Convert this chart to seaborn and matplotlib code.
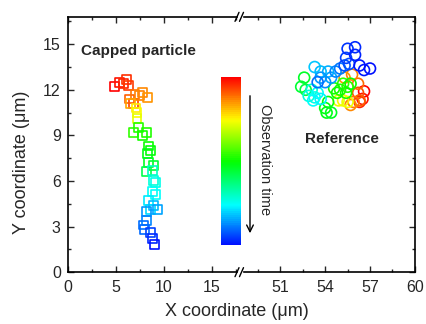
import numpy as np
import matplotlib
matplotlib.use("Agg")
import matplotlib.pyplot as plt
import matplotlib.patches as mpatches
import seaborn as sns
import pandas as pd
from matplotlib.colors import LinearSegmentedColormap, Normalize
from matplotlib.cm import ScalarMappable
from matplotlib.ticker import MultipleLocator

# ── data (x, y in um; t = relative observation time) ──
cap_x = [4.9, 5.4, 5.8, 6.1, 6.3,
         6.8, 6.4, 7.0, 7.5, 7.8, 8.3, 6.5,
         7.1, 7.2, 7.2,
         6.8, 7.4, 8.2, 7.8, 8.4, 8.6, 8.3, 8.4, 8.9, 8.2,
         8.8, 8.9, 9.1, 8.8, 9.1, 8.4, 8.6,
         8.9, 9.3, 8.2, 8.2, 7.9, 8.0,
         8.6, 8.8, 9.0]
cap_y = [12.2, 12.5, 12.4, 12.7, 12.3,
         11.1, 11.4, 11.7, 11.6, 11.8, 11.5, 11.1,
         10.8, 10.5, 10.1,
         9.2, 9.5, 9.2, 9.0, 8.3, 8.0, 7.8, 7.2, 7.0, 6.6,
         6.7, 6.05, 5.9, 5.3, 5.1, 4.7, 4.1,
         4.4, 4.1, 4.0, 3.4, 3.1, 2.8,
         2.6, 2.2, 1.8]
cap_t = [0.00, 0.02, 0.04, 0.05, 0.06,
         0.07, 0.10, 0.12, 0.13, 0.14, 0.15, 0.17,
         0.24, 0.26, 0.28,
         0.46, 0.47, 0.48, 0.49, 0.50, 0.51, 0.52, 0.54, 0.56, 0.58,
         0.70, 0.72, 0.74, 0.75, 0.76, 0.78, 0.80,
         0.83, 0.85, 0.86, 0.88, 0.90, 0.91,
         0.95, 0.97, 1.00]

ref_x = [56.6, 56.5, 56.3,
         56.2, 56.3, 55.9, 55.7, 56.2, 55.8, 55.3,
         55.2, 55.5, 54.9,
         55.2, 55.5, 55.0, 55.4, 54.8, 55.7, 54.2, 54.0, 54.1, 54.4, 52.6, 52.4, 52.7, 54.6,
         53.1, 52.9, 53.3, 53.5, 53.2, 53.7,
         53.3, 53.7, 54.2, 54.4, 53.7, 54.0, 54.7, 55.0, 53.5,
         55.3, 55.6, 55.4, 55.5, 56.0, 56.0, 56.3, 56.6, 57.0]
ref_y = [11.9, 11.4, 11.2,
         11.8, 11.3, 11.2, 11.0, 12.4, 13.0, 12.8,
         11.3, 11.2, 11.3,
         12.4, 12.2, 12.0, 11.8, 11.8, 12.4, 11.2, 10.8, 10.5, 10.5, 12.8, 12.2, 12.0, 12.1,
         12.0, 11.6, 11.5, 11.8, 11.3, 11.4,
         13.5, 13.2, 13.2, 12.8, 12.8, 12.5, 13.2, 13.4, 12.5,
         13.6, 13.7, 14.1, 14.7, 14.8, 14.3, 13.6, 13.3, 13.4]
ref_t = [0.00, 0.02, 0.04,
         0.08, 0.10, 0.12, 0.14, 0.11, 0.13, 0.15,
         0.25, 0.27, 0.28,
         0.46, 0.47, 0.48, 0.49, 0.50, 0.50, 0.51, 0.52, 0.53, 0.54, 0.55, 0.56, 0.57, 0.49,
         0.72, 0.73, 0.74, 0.75, 0.76, 0.77,
         0.82, 0.83, 0.84, 0.85, 0.86, 0.87, 0.88, 0.89, 0.90,
         0.93, 0.94, 0.95, 0.96, 0.97, 0.98, 0.99, 0.99, 1.00]

x_ticks_left = [0, 5, 10, 15]
x_ticks_right = [51, 54, 57, 60]
y_ticks = [0, 3, 6, 9, 12, 15]

df_cap = pd.DataFrame({"x": cap_x, "y": cap_y, "t": cap_t})
df_ref = pd.DataFrame({"x": ref_x, "y": ref_y, "t": ref_t})

# red -> yellow -> green -> cyan -> blue
cmap = LinearSegmentedColormap.from_list("time", plt.cm.hsv(np.linspace(0, 0.667, 256)))

sns.set_style("ticks")
plt.rcParams["font.family"] = ["Liberation Sans", "DejaVu Sans"]

W, H = 426, 324
fig = plt.figure(figsize=(W / 100, H / 100), dpi=100)
axL = fig.add_axes([0.159, 0.160, 0.404, 0.788])
axR = fig.add_axes([0.563, 0.160, 0.411, 0.788], sharey=axL)


def hollow(ax):
    coll = ax.collections[-1]
    fc = coll.get_facecolors()
    coll.set_edgecolors(fc)
    coll.set_facecolors("none")


sns.scatterplot(data=df_cap, x="x", y="y", hue="t", palette=cmap, hue_norm=(0, 1),
                marker="s", s=40, linewidth=1.2, legend=False, ax=axL)
hollow(axL)
sns.scatterplot(data=df_ref, x="x", y="y", hue="t", palette=cmap, hue_norm=(0, 1),
                marker="o", s=62, linewidth=1.2, legend=False, ax=axR)
hollow(axR)

axL.set_xlim(0, 17.9)
axR.set_xlim(48.3, 60)
axL.set_ylim(0, 16.8)

axL.set_xticks(x_ticks_left)
axR.set_xticks(x_ticks_right)
axL.set_yticks(y_ticks)
axL.xaxis.set_minor_locator(MultipleLocator(2.5))
axR.xaxis.set_minor_locator(MultipleLocator(1.5))
axL.yaxis.set_minor_locator(MultipleLocator(1.5))

for ax in (axL, axR):
    ax.set_xlabel("")
    ax.set_ylabel("")
    ax.tick_params(which="both", direction="in", top=True, labelsize=11.5, width=1)
    ax.tick_params(axis="x", pad=6)
    ax.tick_params(axis="y", pad=5)
    ax.tick_params(which="major", length=4)
    ax.tick_params(which="minor", length=2.5)
    for sp in ax.spines.values():
        sp.set_linewidth(1.2)
        sp.set_color("black")

axL.spines["right"].set_visible(False)
axL.tick_params(which="both", right=False)
axR.spines["left"].set_visible(False)
axR.tick_params(which="both", left=False, labelleft=False, right=True)

# break marks "//" on top and bottom spines
xb = 240
for yb_px in (H * 0.160, H * (0.160 + 0.788)):
    fig.add_artist(plt.Rectangle(((xb - 2.5) / W, (yb_px - 1.5) / H), 4 / W, 3 / H,
                                 color="white", zorder=5))
    for dx in (-3.0, 1.5):
        x0 = xb + dx
        fig.add_artist(plt.Line2D([(x0 - 2) / W, (x0 + 2) / W],
                                  [(yb_px - 4.5) / H, (yb_px + 4.5) / H],
                                  color="black", lw=1, zorder=6))

# colour bar for observation time
cax = fig.add_axes([0.519, 0.244, 0.047, 0.519])
cb = fig.colorbar(ScalarMappable(norm=Normalize(0, 1), cmap=cmap.reversed()), cax=cax)
cb.outline.set_visible(False)
cax.set_xticks([])
cax.set_yticks([])

fig.patches.append(mpatches.FancyArrowPatch(
    (250 / W, (H - 93) / H), (250 / W, (H - 236) / H),
    transform=fig.transFigure, arrowstyle="->", mutation_scale=12, lw=1, color="black"))
fig.text(265 / W, (H - 160) / H, "Observation time", rotation=-90,
         ha="center", va="center", fontsize=10.5)

fig.text(81 / W, (H - 51) / H, "Capped particle", fontsize=11, fontweight="bold",
         ha="left", va="center")
fig.text(342 / W, (H - 139) / H, "Reference", fontsize=11, fontweight="bold",
         ha="center", va="center")

fig.text(237 / W, (H - 312) / H, "X coordinate (μm)", fontsize=13,
         ha="center", va="center")
fig.text(22 / W, (H - 162) / H, "Y coordinate (μm)", fontsize=13,
         rotation=90, ha="center", va="center")

fig.savefig("out.png", dpi=100)
